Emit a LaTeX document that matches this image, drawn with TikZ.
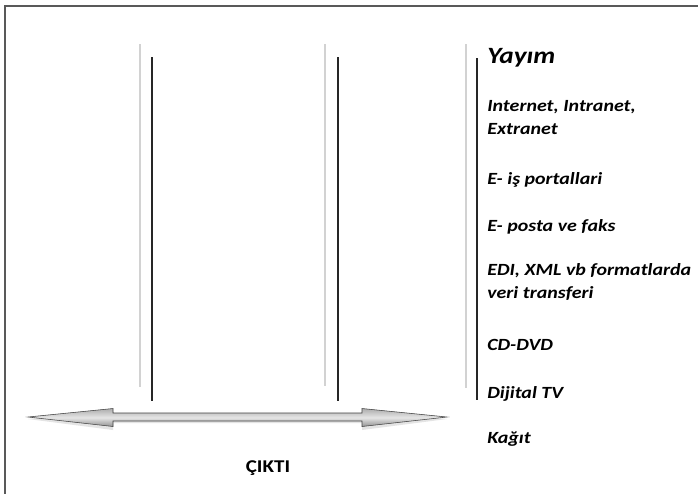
\documentclass[tikz,border=0pt]{standalone}
\usepackage{fontspec}
\setmainfont{Carlito}
\newfontfamily\wide[FakeStretch=1.17]{Carlito}
\begin{document}
\begin{tikzpicture}[x=0.75pt,y=-0.75pt,
  guide/.style={draw=gray!35,line width=2.2pt},
  rail/.style={draw=black!85,line width=1.4pt},
  entry/.style={anchor=base west,inner sep=0pt,align=left,
    font=\wide\bfseries\itshape\fontsize{12.8}{16.9}\selectfont},
  heading/.style={anchor=base west,inner sep=0pt,
    font=\wide\bfseries\itshape\fontsize{17.5}{20}\selectfont},
  caption/.style={anchor=base,inner sep=0pt,
    font=\wide\bfseries\fontsize{13.5}{16}\selectfont}]
\useasboundingbox (0,0) rectangle (698,493);
\clip (0,0) rectangle (698,493);
\fill[white] (0,0) rectangle (698,493);
% outer frame
\draw[black!65,line width=1.5pt] (4.5,5.5) rectangle (720,520);
% light guide lines
\draw[guide] (140,44) -- (140,387);
\draw[guide] (325,44) -- (325,386);
\draw[guide] (466,44) -- (466,388);
% dark rails
\draw[rail] (152,57) -- (152,401);
\draw[rail] (338,57) -- (338,401);
\draw[rail] (477,58) -- (477,400);
% double arrow with soft shadow and shading
\fill[gray!30,opacity=0.7] (28,419) -- (113,411) -- (113,416) -- (362,416) -- (362,411) -- (447,419)
  -- (362,430) -- (362,423) -- (113,423) -- (113,430) -- cycle;
\shade[top color=gray!65,bottom color=gray!85,middle color=gray!20,draw=gray!50!black,line width=0.4pt]
  (28,417) -- (113,408.5) -- (113,413) -- (362,413) -- (362,408.5) -- (447,417)
  -- (362,426.5) -- (362,421) -- (113,421) -- (113,426.5) -- cycle;
% texts (base anchor of a two-line node sits on its last line)
\node[heading] (yayim) at (487,63) {Yayım};
\node[entry] (net) at (487,134) {Internet, Intranet,\\Extranet};
\node[entry] (portal) at (487,184) {E- iş portallari};
\node[entry] (posta) at (487,231) {E- posta ve faks};
\node[entry] (edi) at (487,298) {EDI, XML vb formatlarda\\veri transferi};
\node[entry] (cd) at (487,350) {CD-DVD};
\node[entry] (tv) at (487,398) {Dijital TV};
\node[entry] (kagit) at (487,443) {Kağıt};
\node[caption] (cikti) at (268,472) {ÇIKTI};
\end{tikzpicture}
\end{document}
